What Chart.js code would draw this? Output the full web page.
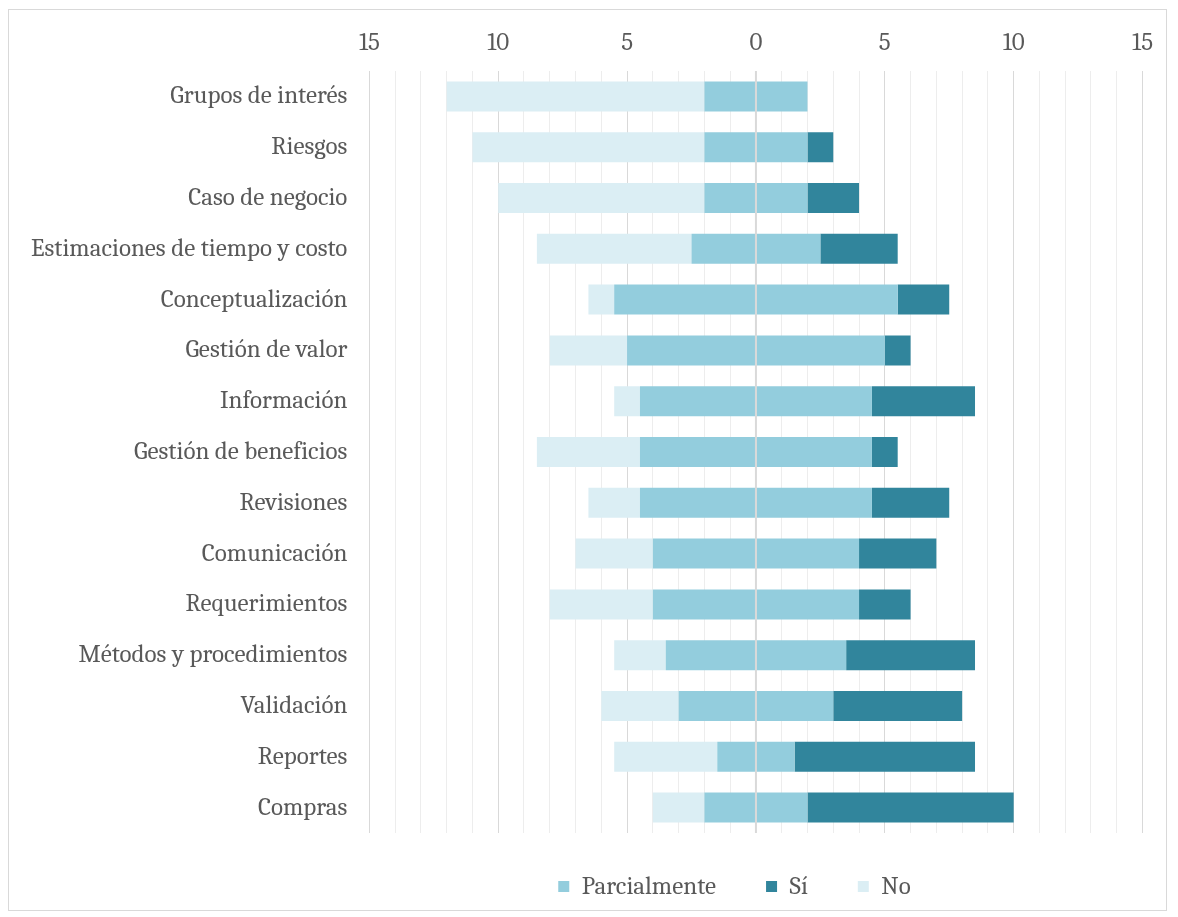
<!DOCTYPE html>
<html>
<head>
<meta charset="utf-8">
<script src="https://cdn.jsdelivr.net/npm/chart.js@4"></script>
<style>
  html, body { margin: 0; padding: 0; background: #fff; }
  #frame {
    position: absolute; left: 8px; top: 9px;
    width: 1159px; height: 902px;
    border: 1px solid #d9d9d9; box-sizing: border-box;
  }
  #chart { display: block; }
</style>
</head>
<body>
<div id="frame"><canvas id="chart" width="1157" height="908"></canvas></div>
<script>
// Survey answers per management area (number of responses)
const categories = [
  'Grupos de interés', 'Riesgos', 'Caso de negocio', 'Estimaciones de tiempo y costo',
  'Conceptualización', 'Gestión de valor', 'Información', 'Gestión de beneficios',
  'Revisiones', 'Comunicación', 'Requerimientos', 'Métodos y procedimientos',
  'Validación', 'Reportes', 'Compras'
];
const parcialmente = [4, 4, 4, 5, 11, 10, 9, 9, 9, 8, 8, 7, 6, 3, 4];
const si           = [0, 1, 2, 3, 2, 1, 4, 1, 3, 3, 2, 5, 5, 7, 8];
const no           = [10, 9, 8, 6, 1, 3, 1, 4, 2, 3, 4, 2, 3, 4, 2];
const axisMin = -15, axisMax = 15;

const FONT = 'Cambria, "DejaVu Serif Condensed", "Liberation Serif", serif';
const TEXT = '#595959';
const COLORS = { parcial: '#93cddd', si: '#31859c', no: '#dbeef4' };

// "Parcialmente" is split around zero, "No" goes left and "Sí" goes right.
// The zero line sits on top of the bars.
const zeroLine = {
  id: 'zeroLine',
  afterLayout(chart) {
    // keep the legend under the plot rather than the whole canvas
    const lg = chart.legend, area = chart.chartArea;
    if (lg) {
      lg.left = area.left - 43; lg.right = area.right;
      lg.top -= 9; lg.bottom -= 9;
    }
  },
  afterDatasetsDraw(chart) {
    const x = chart.scales.x.getPixelForValue(0);
    const { top, bottom } = chart.chartArea;
    const c = chart.ctx;
    c.save();
    c.strokeStyle = '#d9d9d9';
    c.lineWidth = 2;
    c.beginPath();
    c.moveTo(x, top);
    c.lineTo(x, bottom);
    c.stroke();
    c.restore();
  }
};

new Chart(document.getElementById('chart'), {
  type: 'bar',
  data: {
    labels: categories,
    datasets: [
      { label: 'Parcialmente', data: parcialmente.map(v => -v / 2), backgroundColor: COLORS.parcial },
      { label: 'Parcialmente (der.)', data: parcialmente.map(v => v / 2), backgroundColor: COLORS.parcial },
      { label: 'Sí', data: si, backgroundColor: COLORS.si },
      { label: 'No', data: no.map(v => -v), backgroundColor: COLORS.no }
    ].map(d => ({ ...d, stack: 'all', categoryPercentage: 1, barPercentage: 0.59, borderWidth: 0 }))
  },
  options: {
    responsive: false,
    animation: false,
    indexAxis: 'y',
    layout: { padding: { top: 5, right: 18, left: 8, bottom: 0 } },
    scales: {
      x: {
        position: 'top',
        stacked: true,
        min: axisMin, max: axisMax,
        border: { display: false },
        grid: {
          drawTicks: false,
          color: ctx => (ctx.tick && ctx.tick.value % 5 === 0) ? '#d9d9d9' : '#ededed',
          lineWidth: 1
        },
        ticks: {
          stepSize: 1,
          autoSkip: false,
          maxRotation: 0,
          padding: 13,
          color: TEXT,
          font: { family: FONT, size: 25 },
          callback: v => v % 5 === 0 ? String(Math.abs(v)) : ''
        }
      },
      y: {
        stacked: true,
        border: { display: false },
        grid: { display: false },
        ticks: { padding: 14, color: TEXT, font: { family: FONT, size: 25 } }
      }
    },
    plugins: {
      tooltip: { enabled: false },
      legend: {
        position: 'bottom',
        labels: {
          color: TEXT,
          font: { family: FONT, size: 25 },
          boxWidth: 11, boxHeight: 11,
          padding: 50,
          filter: item => item.datasetIndex !== 1
        }
      }
    }
  },
  plugins: [zeroLine]
});
</script>
</body>
</html>
